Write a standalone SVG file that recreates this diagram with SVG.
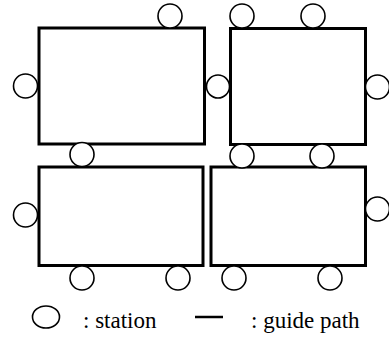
<svg xmlns="http://www.w3.org/2000/svg" width="389" height="345" viewBox="0 0 389 345">
  <style>
    .path { fill: #fff; stroke: #000; stroke-width: 3; }
    .st { fill: #fff; stroke: #000; stroke-width: 1.6; }
    .lbl { font-family: "Liberation Serif", "Times New Roman", serif; font-size: 23px; fill: #000; }
  </style>
  <rect width="389" height="345" fill="#fff"/>

  <!-- guide path loops around each block -->
  <g id="connectors">
    <rect id="block-nw" class="path" x="39" y="28" width="165.5" height="116"/>
    <rect id="block-ne" class="path" x="230.5" y="28.5" width="135" height="116"/>
    <rect id="block-sw" class="path" x="39" y="167" width="164" height="98.5"/>
    <rect id="block-se" class="path" x="211" y="167" width="154.5" height="98.5"/>
  </g>

  <!-- stations along the guide path -->
  <g id="st-1"><circle class="st" cx="170" cy="16" r="12"/></g>
  <g id="st-2"><circle class="st" cx="25.5" cy="86" r="12"/></g>
  <g id="st-3"><circle class="st" cx="82" cy="154.5" r="12"/></g>
  <g id="st-4"><circle class="st" cx="242" cy="16" r="12"/></g>
  <g id="st-5"><circle class="st" cx="313" cy="16" r="12"/></g>
  <g id="st-6"><circle class="st" cx="218" cy="86.5" r="11.5"/></g>
  <g id="st-7"><circle class="st" cx="377.5" cy="87" r="12"/></g>
  <g id="st-8"><circle class="st" cx="242" cy="156" r="12"/></g>
  <g id="st-9"><circle class="st" cx="322" cy="156" r="12"/></g>
  <g id="st-10"><circle class="st" cx="25.5" cy="215" r="12"/></g>
  <g id="st-11"><circle class="st" cx="377.5" cy="209" r="12"/></g>
  <g id="st-12"><circle class="st" cx="82" cy="278" r="12"/></g>
  <g id="st-13"><circle class="st" cx="178" cy="278" r="12"/></g>
  <g id="st-14"><circle class="st" cx="234" cy="278" r="12"/></g>
  <g id="st-15"><circle class="st" cx="330" cy="278" r="12"/></g>

  <!-- legend -->
  <g id="legend">
    <ellipse class="st" cx="46" cy="317" rx="13.5" ry="11"/>
    <text class="lbl" x="83" y="328">: station</text>
    <line x1="195" y1="317" x2="223" y2="317" stroke="#000" stroke-width="2.5"/>
    <text class="lbl" x="251" y="328">: guide path</text>
  </g>
</svg>
